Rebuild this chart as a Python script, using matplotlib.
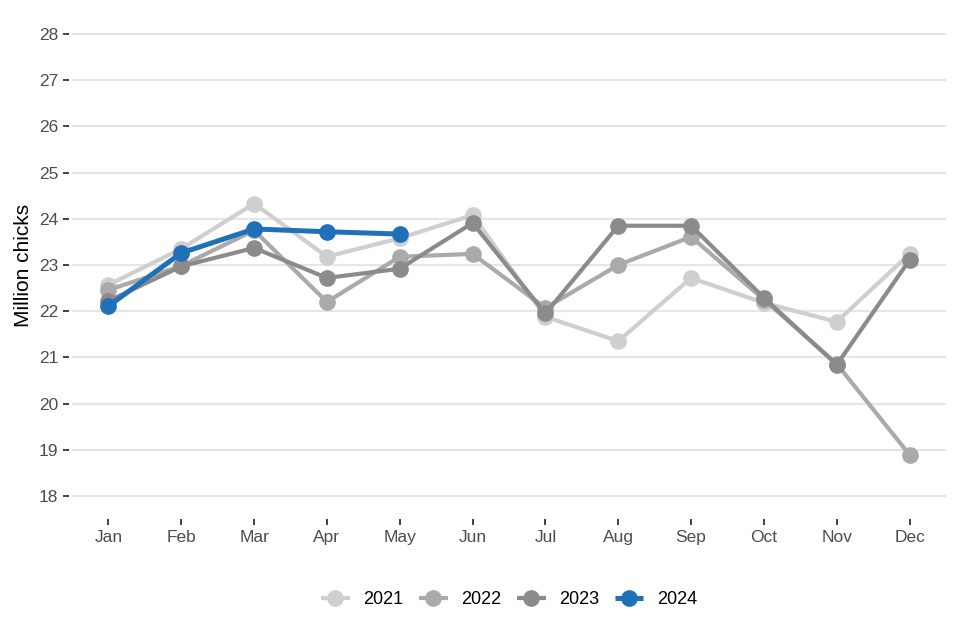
import matplotlib
matplotlib.use("Agg")
import matplotlib.pyplot as plt

months = ["Jan", "Feb", "Mar", "Apr", "May", "Jun", "Jul", "Aug", "Sep", "Oct", "Nov", "Dec"]
y2021 = [22.57, 23.35, 24.33, 23.18, 23.58, 24.08, 21.88, 21.35, 22.72, 22.18, 21.77, 23.24]
y2022 = [22.46, 22.98, 23.75, 22.20, 23.18, 23.24, 22.07, 23.00, 23.61, 22.25, 20.86, 18.89]
y2023 = [22.22, 22.97, 23.37, 22.72, 22.92, 23.91, 21.95, 23.85, 23.85, 22.29, 20.84, 23.11]
y2024 = [22.11, 23.26, 23.78, 23.72, 23.67]
years = ["2021", "2022", "2023", "2024"]
colors = ["#d0cfcf", "#aba9a9", "#8d8a8a", "#1f6fb9"]
yticks = list(range(18, 29))

plt.rcParams['font.family'] = ['Liberation Sans', 'DejaVu Sans']
fig = plt.figure(figsize=(9.6, 6.4), dpi=100)
L, R, B, T = 72, 946, 519, 11
ax = fig.add_axes([L/960, 1-B/640, (R-L)/960, (B-T)/640])

series = [y2021, y2022, y2023, y2024]
for i, (vals, yr, c) in enumerate(zip(series, years, colors)):
    lw = 3.6 if yr == "2024" else 3.0
    ax.plot(range(len(vals)), vals, color=c, lw=lw, marker='o', markersize=11,
            label=yr, zorder=3 + i, solid_capstyle='butt')

ax.set_xlim(-0.5, 11.5)
ax.set_ylim(17.5, 28.5)
ax.set_xticks(range(12))
ax.set_xticklabels(months)
ax.set_yticks(yticks)
ax.set_yticklabels([str(t) for t in yticks])
ax.grid(axis='y', color='#e6e6e6', lw=1.5, zorder=0)
ax.grid(axis='x', visible=False)
for s in ax.spines.values():
    s.set_visible(False)
ax.spines['left'].set_position(('outward', 2.5))
ax.tick_params(axis='both', colors='#333333', labelcolor='#4d4d4d', labelsize=12.5,
               length=4, width=1.3)
ax.tick_params(axis='y', pad=3.5)
ax.tick_params(axis='x', pad=4)
ax.set_ylabel("Million chicks", fontsize=15, color='black', labelpad=4)

leg = ax.legend(loc='center', bbox_to_anchor=((L+R)/2/960, (640-600)/640), bbox_transform=fig.transFigure,
                ncol=4, frameon=False, fontsize=13, handlelength=1.6, columnspacing=0.85,
                handletextpad=0.75)
fig.savefig("out.png", dpi=100)
